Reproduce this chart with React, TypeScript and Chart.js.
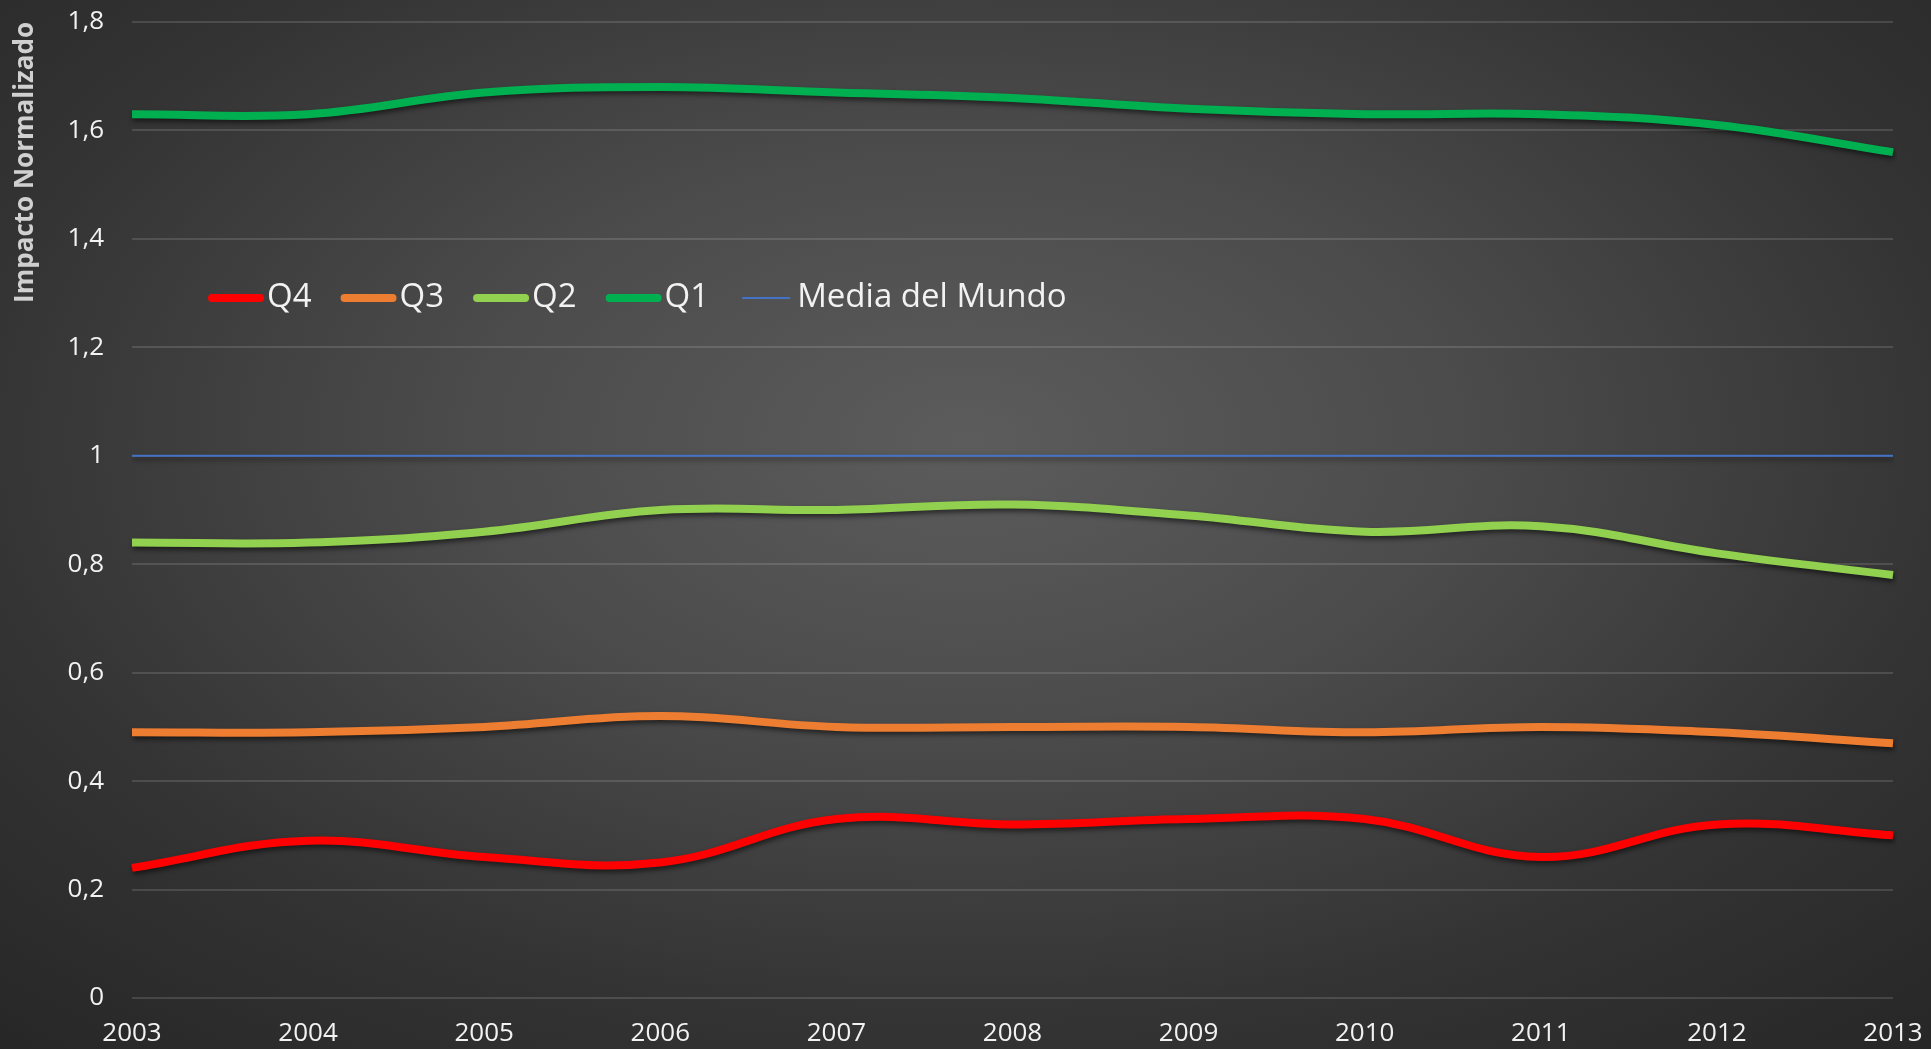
import React, { useEffect, useRef } from "react";
import { Chart, registerables } from "chart.js";

Chart.register(...registerables);

const years = ["2003", "2004", "2005", "2006", "2007", "2008", "2009", "2010", "2011", "2012", "2013"];
const q4 = [0.24, 0.29, 0.26, 0.25, 0.33, 0.32, 0.33, 0.33, 0.26, 0.32, 0.30];
const q3 = [0.49, 0.49, 0.50, 0.52, 0.50, 0.50, 0.50, 0.49, 0.50, 0.49, 0.47];
const q2 = [0.84, 0.84, 0.86, 0.90, 0.90, 0.91, 0.89, 0.86, 0.87, 0.82, 0.78];
const q1 = [1.63, 1.63, 1.67, 1.68, 1.67, 1.66, 1.64, 1.63, 1.63, 1.61, 1.56];
const mediaMundo = [1, 1, 1, 1, 1, 1, 1, 1, 1, 1, 1];
const seriesLabels = ["Q4", "Q3", "Q2", "Q1", "Media del Mundo"];
const yTitle = "Impacto Normalizado";

const FONT = "'Open Sans', 'DejaVu Sans', sans-serif";

const shadowPlugin = {
  id: "lineShadow",
  beforeDatasetsDraw(chart: any) {
    const ctx = chart.ctx;
    ctx.save();
    ctx.shadowColor = "rgba(0,0,0,0.55)";
    ctx.shadowBlur = 5;
    ctx.shadowOffsetX = 1;
    ctx.shadowOffsetY = 3;
  },
  afterDatasetsDraw(chart: any) {
    chart.ctx.restore();
  },
};

const legendPlugin = {
  id: "insideLegend",
  afterDraw(chart: any) {
    const ctx = chart.ctx;
    ctx.save();
    ctx.font = `33px ${FONT}`;
    ctx.textBaseline = "middle";
    ctx.textAlign = "left";
    let x = 209;
    const y = 298;
    chart.data.datasets.forEach((ds: any) => {
      ctx.beginPath();
      ctx.strokeStyle = ds.borderColor;
      ctx.lineWidth = ds.borderWidth > 3 ? 8 : 2;
      ctx.lineCap = ds.borderWidth > 3 ? "round" : "butt";
      ctx.moveTo(x + 3, y);
      ctx.lineTo(x + 51, y);
      ctx.stroke();
      x += 58;
      ctx.fillStyle = "#f2f2f2";
      ctx.fillText(ds.label, x, y);
      x += ctx.measureText(ds.label).width + 30;
    });
    ctx.restore();
  },
};

export default function App() {
  const ref = useRef<HTMLCanvasElement | null>(null);

  useEffect(() => {
    if (!ref.current) return;
    const mk = (label: string, data: number[], color: string, width: number) => ({
      label,
      data,
      borderColor: color,
      backgroundColor: color,
      borderWidth: width,
      pointRadius: 0,
      tension: 0.4,
      fill: false,
      borderCapStyle: "butt" as const,
    });
    const chart = new Chart(ref.current, {
      type: "line",
      data: {
        labels: years,
        datasets: [
          mk(seriesLabels[0], q4, "#FF0000", 8),
          mk(seriesLabels[1], q3, "#ED7D31", 8),
          mk(seriesLabels[2], q2, "#92D050", 8),
          mk(seriesLabels[3], q1, "#00B050", 8),
          mk(seriesLabels[4], mediaMundo, "#4472C4", 2),
        ],
      },
      options: {
        responsive: false,
        animation: false,
        layout: { padding: { left: 0, right: 38, top: 22, bottom: 0 } },
        plugins: {
          legend: { display: false },
          tooltip: { enabled: false },
        },
        scales: {
          x: {
            grid: { display: false, drawTicks: false },
            border: { display: false },
            offset: false,
            ticks: {
              color: "#f2f2f2",
              font: { family: FONT, size: 26 },
              padding: 20,
              maxRotation: 0,
              autoSkip: false,
            },
            afterFit: (s: any) => {
              s.height = 51;
              s.paddingLeft = 0;
              s.paddingRight = 0;
              s.paddingTop = 0;
              s.paddingBottom = 0;
            },
          },
          y: {
            min: 0,
            max: 1.8,
            grid: { color: "rgba(255,255,255,0.13)", lineWidth: 2, drawTicks: false },
            border: { display: false },
            ticks: {
              stepSize: 0.2,
              color: "#f2f2f2",
              font: { family: FONT, size: 26 },
              padding: 28,
              callback: (v: any) => String(Math.round(Number(v) * 10) / 10).replace(".", ","),
            },
            title: {
              display: true,
              text: yTitle,
              align: "end",
              color: "#d0d0d0",
              font: { family: FONT, size: 26, weight: "bold" },
              padding: { top: 10, bottom: 0 },
            },
            afterFit: (s: any) => {
              s.width = 132;
              s.paddingLeft = 0;
              s.paddingRight = 0;
              s.paddingTop = 0;
              s.paddingBottom = 0;
            },
          },
        },
      },
      plugins: [shadowPlugin, legendPlugin],
    });
    return () => chart.destroy();
  }, []);

  return (
    <div
      style={{
        position: "fixed",
        left: 0,
        top: 0,
        width: 1931,
        height: 1049,
        background:
          "radial-gradient(ellipse 75% 80% at 50% 42%, #5c5c5c 0%, #4b4b4b 35%, #333333 70%, #262626 100%)",
      }}
    >
      <canvas ref={ref} width={1931} height={1049} style={{ display: "block" }} />
    </div>
  );
}
